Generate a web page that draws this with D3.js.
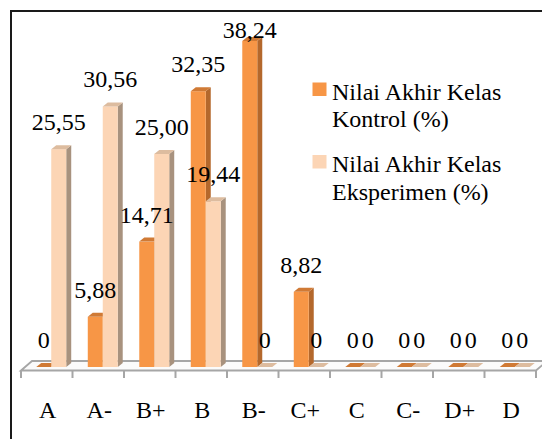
<!DOCTYPE html>
<html>
<head>
<meta charset="utf-8">
<script src="https://cdn.jsdelivr.net/npm/d3@7"></script>
</head>
<body style="margin:0">
<svg id="chart" width="542" height="439"></svg>
<script>
// Grade categories and the two class distributions (%)
const categories = ["A", "A-", "B+", "B", "B-", "C+", "C", "C-", "D+", "D"];
const seriesNames = ["Nilai Akhir Kelas Kontrol (%)", "Nilai Akhir Kelas Eksperimen (%)"];
const kontrol = [0, 5.88, 14.71, 32.35, 38.24, 8.82, 0, 0, 0, 0];
const eksperimen = [25.55, 30.56, 25.00, 19.44, 0, 0, 0, 0, 0, 0];
const legendLines = [["Nilai Akhir Kelas", "Kontrol (%)"], ["Nilai Akhir Kelas", "Eksperimen (%)"]];

const fmt = v => v === 0 ? "0" : d3.format(".2f")(v).replace(".", ",");

const palette = [
  { front: "#F79646", side: "#B4682C", top: "#D07A35" },
  { front: "#FCD5B5", side: "#A8927E", top: "#DDBC9F" }
];

const svg = d3.select("#chart");
const W = 542, H = 439;

// Chart frame (extends past the right and bottom edges)
svg.append("rect")
  .attr("x", 11).attr("y", 11).attr("width", W + 20).attr("height", H + 20)
  .attr("fill", "#fff").attr("stroke", "#1a1a1a").attr("stroke-width", 2);

// Scales
const x0 = d3.scaleBand().domain(categories).range([21, 536]).paddingInner(0).paddingOuter(0);
const x1 = d3.scaleBand().domain(seriesNames).range([0, x0.bandwidth()]).paddingInner(0).paddingOuter(0.72);
const y = d3.scaleLinear().domain([0, 40]).range([367, 26]);

// 3D depth offsets
const dx = 5, dy = 4, shift = 4.5;
const floorFront = 370.5, floorBack = 361, floorDx = 11;

// Floor
const [fx0, fx1] = x0.range();
svg.append("path")
  .attr("d", `M${fx0},${floorFront} L${fx0 + floorDx},${floorBack} L${fx1 + floorDx},${floorBack} L${fx1},${floorFront} Z`)
  .attr("fill", "#fbfbfb").attr("stroke", "#a6a6a6").attr("stroke-width", 1.8);

// Category axis ticks below the floor
const ticks = categories.map(c => x0(c)).concat([fx1]);
svg.selectAll("line.tick").data(ticks).join("line")
  .attr("class", "tick")
  .attr("x1", d => d).attr("x2", d => d)
  .attr("y1", floorFront).attr("y2", 378)
  .attr("stroke", "#a6a6a6").attr("stroke-width", 2);

// Bars
const bars = [];
categories.forEach((c, i) => [kontrol[i], eksperimen[i]].forEach((v, s) => bars.push({ c, s, v })));
const barX = b => x0(b.c) + x1(seriesNames[b.s]) + shift;

bars.forEach(b => {
  const xl = barX(b);
  const w = x1.bandwidth();
  const yb = y(0), yt = y(b.v);
  const col = palette[b.s];
  if (b.v > 0) {
    svg.append("path")
      .attr("d", `M${xl + w},${yb} L${xl + w + dx},${yb - dy} L${xl + w + dx},${yt - dy} L${xl + w},${yt} Z`)
      .attr("fill", col.side);
    svg.append("rect")
      .attr("x", xl).attr("y", yt).attr("width", w).attr("height", yb - yt)
      .attr("fill", col.front);
  }
  svg.append("path")
    .attr("d", `M${xl},${yt} L${xl + dx},${yt - dy} L${xl + w + dx},${yt - dy} L${xl + w},${yt} Z`)
    .attr("fill", col.top);
});

// All text items: value labels, category labels, legend lines
const texts = [];
bars.forEach(b => texts.push({
  t: fmt(b.v), x: barX(b) + x1.bandwidth() / 2, y: Math.max(y(b.v) - 19, 38), a: "middle"
}));
categories.forEach(c => texts.push({
  t: c, x: x0(c) + x0.bandwidth() / 2 + 1, y: 418, a: "middle"
}));
const legendTop = [82.5, 155];
legendLines.forEach((lines, i) => lines.forEach((line, j) => texts.push({
  t: line, x: 332, y: legendTop[i] + 17 + j * 27.7, a: "start"
})));

svg.selectAll("text.lbl").data(texts).join("text")
  .attr("class", "lbl")
  .attr("x", d => d.x).attr("y", d => d.y)
  .attr("text-anchor", d => d.a)
  .attr("font-size", 24)
  .style("font-family", d => `"Liberation Serif"`)
  .text(d => d.t);

// Legend swatches
svg.selectAll("rect.swatch").data(seriesNames).join("rect")
  .attr("class", "swatch")
  .attr("x", 312.5).attr("y", (d, i) => legendTop[i]).attr("width", 14).attr("height", 13.5)
  .attr("fill", (d, i) => palette[i].front);
</script>
</body>
</html>
